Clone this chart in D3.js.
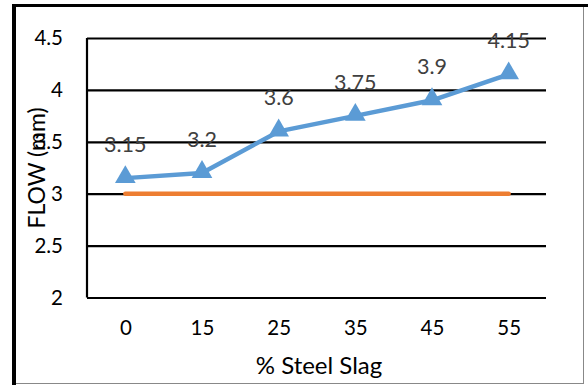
<!DOCTYPE html>
<html>
<head>
<meta charset="utf-8">
<script src="https://cdn.jsdelivr.net/npm/d3@7"></script>
<style>
  body { margin: 0; background: #fff; }
  text { font-family: Lato, "Open Sans", sans-serif; }
</style>
</head>
<body>
<div id="Chart"></div>
<script>
var svgWidth = 588;
var svgHeight = 385;

// data
var categories = ["0", "15", "25", "35", "45", "55"];
var flowValues = [3.15, 3.2, 3.6, 3.75, 3.9, 4.15];
var baseValues = [3, 3, 3, 3, 3, 3];
var yTicks = [2, 2.5, 3, 3.5, 4, 4.5];

var margin = { top: 38, right: 41, bottom: 87.5, left: 87 };
var width = 547 - margin.left;
var height = 297.5 - margin.top;

var svg = d3.select("#Chart")
  .append("svg")
  .attr("width", svgWidth)
  .attr("height", svgHeight);

// outer frame
svg.append("line").attr("x1", 12).attr("x2", 588).attr("y1", 5.5).attr("y2", 5.5)
  .attr("stroke", "#000").attr("stroke-width", 3);
svg.append("line").attr("x1", 14).attr("x2", 14).attr("y1", 4).attr("y2", 385)
  .attr("stroke", "#000").attr("stroke-width", 4);
svg.append("line").attr("x1", 583.5).attr("x2", 583.5).attr("y1", 7).attr("y2", 384)
  .attr("stroke", "#888").attr("stroke-width", 1);
svg.append("line").attr("x1", 16).attr("x2", 584).attr("y1", 383.5).attr("y2", 383.5)
  .attr("stroke", "#888").attr("stroke-width", 1);

var chartGroup = svg.append("g")
  .attr("transform", `translate(${margin.left}, ${margin.top})`);

var xScale = d3.scalePoint()
  .domain(categories)
  .range([0, width])
  .padding(0.5);

var yScale = d3.scaleLinear()
  .domain([2, 4.5])
  .range([height, 0]);

// gridlines
chartGroup.append("g")
  .call(d3.axisLeft(yScale).tickValues(yTicks).tickSize(-(width - 1)).tickFormat(""))
  .call(g => g.select(".domain").remove())
  .call(g => g.selectAll("line").attr("stroke", "#000").attr("stroke-width", 2.2));

// y axis line
chartGroup.append("line")
  .attr("x1", 0).attr("x2", 0)
  .attr("y1", yScale(4.5)).attr("y2", yScale(2))
  .attr("stroke", "#000").attr("stroke-width", 2.2);

// y tick labels
var leftAxis = d3.axisLeft(yScale).tickValues(yTicks).tickSize(0).tickPadding(24)
  .tickFormat(d => d);
chartGroup.append("g")
  .call(leftAxis)
  .call(g => g.select(".domain").remove())
  .call(g => g.selectAll("text").attr("font-size", 20.5).attr("fill", "#000")
    .style("font-family", "Lato, sans-serif"));

// x tick labels
var bottomAxis = d3.axisBottom(xScale).tickSize(0).tickPadding(23);
chartGroup.append("g")
  .attr("transform", `translate(0, ${height})`)
  .call(bottomAxis)
  .call(g => g.select(".domain").remove())
  .call(g => g.selectAll("text").attr("font-size", 20.5).attr("fill", "#000")
    .style("font-family", "Lato, sans-serif"));

// orange series
var line = d3.line()
  .x((d, i) => xScale(categories[i]))
  .y(d => yScale(d));

chartGroup.append("path")
  .datum(baseValues)
  .attr("d", line)
  .attr("fill", "none")
  .attr("stroke", "#ED7D31")
  .attr("stroke-width", 4.5)
  .attr("stroke-linecap", "round");

// blue series
chartGroup.append("path")
  .datum(flowValues)
  .attr("d", line)
  .attr("fill", "none")
  .attr("stroke", "#5B9BD5")
  .attr("stroke-width", 4.5)
  .attr("stroke-linejoin", "round");

chartGroup.selectAll(".marker")
  .data(flowValues)
  .enter()
  .append("path")
  .attr("class", "marker")
  .attr("d", d3.symbol().type(d3.symbolTriangle).size(185))
  .attr("transform", (d, i) => `translate(${xScale(categories[i])}, ${yScale(d) - 1})`)
  .attr("fill", "#5B9BD5");

chartGroup.selectAll(".dlabel")
  .data(flowValues)
  .enter()
  .append("text")
  .attr("class", "dlabel")
  .attr("x", (d, i) => xScale(categories[i]))
  .attr("y", d => yScale(d) - 26)
  .attr("text-anchor", "middle")
  .attr("font-size", 21.5)
  .attr("fill", "#404040")
  .text(d => d);

// axis titles
svg.append("text")
  .attr("transform", "translate(45, 168) rotate(-90)")
  .attr("text-anchor", "middle")
  .attr("font-size", 23)
  .attr("fill", "#000")
  .text("FLOW (mm)");

svg.append("text")
  .attr("x", 319)
  .attr("y", 374)
  .attr("text-anchor", "middle")
  .attr("font-size", 24)
  .attr("fill", "#000")
  .text("% Steel Slag");
</script>
</body>
</html>
